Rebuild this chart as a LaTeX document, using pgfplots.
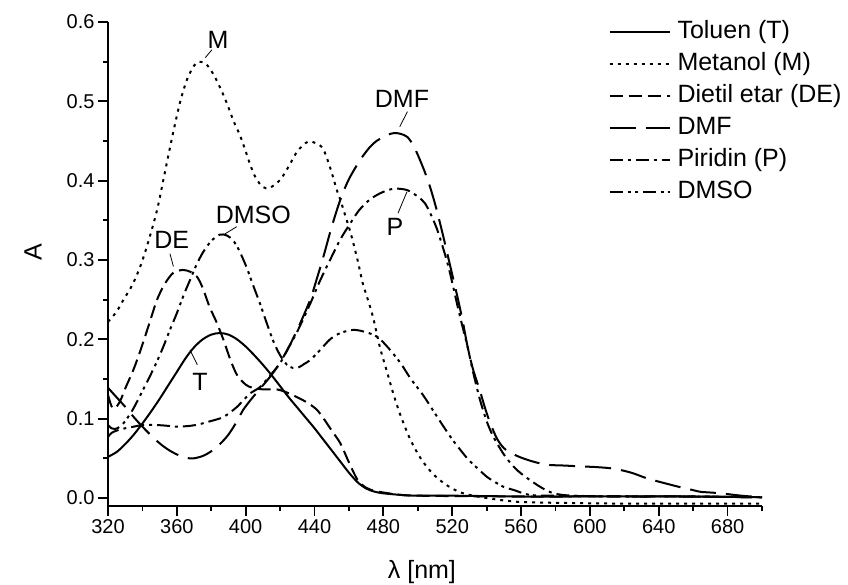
\documentclass[border=0pt]{standalone}
\usepackage{fontspec}
\setmainfont{Liberation Sans}
\usepackage{pgfplots}
\pgfplotsset{compat=1.18}
\tikzset{
  sT/.style={line width=2pt, solid},
  sM/.style={line width=2pt, dash pattern=on 3pt off 5pt},
  sDE/.style={line width=2pt, dash pattern=on 13pt off 6pt},
  sDMF/.style={line width=2pt, dash pattern=on 26pt off 10pt},
  sP/.style={line width=2pt, dash pattern=on 13pt off 5pt on 3pt off 5pt},
  sDMSO/.style={line width=2pt, dash pattern=on 13pt off 5pt on 3pt off 4pt on 3pt off 5pt},
}
\begin{document}
\begin{tikzpicture}
\useasboundingbox (-108pt,-78pt) rectangle (740pt,506pt);
\begin{axis}[
  scale only axis, width=654pt, height=484pt,
  xmin=320, xmax=700, ymin=-0.01, ymax=0.6,
  axis x line*=bottom, axis y line*=left,
  axis line style={line width=1.8pt},
  xtick={320,360,400,440,480,520,560,600,640,680},
  minor xtick={340,380,420,460,500,540,580,620,660,700},
  ytick={0,0.1,0.2,0.3,0.4,0.5,0.6},
  minor ytick={0.05,0.15,0.25,0.35,0.45,0.55},
  tick align=outside,
  major tick length=10pt, minor tick length=5pt,
  every tick/.style={line width=1.8pt, black},
  tick label style={font=\fontsize{20}{24}\selectfont},
  /pgf/number format/assume math mode=true,
  yticklabel style={/pgf/number format/.cd, fixed, fixed zerofill, precision=1},
  xticklabel style={/pgf/number format/1000 sep={}},
  xlabel={λ [nm]}, ylabel={A},
  label style={font=\fontsize{25}{30}\selectfont},
  x label style={at={(axis description cs:0.48,-0.1364)}, anchor=center},
  y label style={at={(axis description cs:-0.1147,0.525)}, anchor=center},
  legend cell align=left,
  legend image code/.code={\draw[#1] (0pt,0pt) -- (60pt,0pt);},
  legend style={draw=none, fill=none, at={(axis description cs:0.765,1.008)}, anchor=north west,
    font=\fontsize{25}{30}\selectfont, row sep=5pt, inner sep=0pt,
    nodes={inner sep=1pt, text depth=6pt, text height=19pt},
    /tikz/every odd column/.append style={column sep=6pt}},
  clip=false,
]
\addplot[sT, smooth] coordinates {
(320,0.052)(325,0.058)(330,0.068)(335,0.080)(340,0.094)(345,0.109)(350,0.125)(355,0.142)(360,0.159)(365,0.176)(370,0.190)(375,0.200)(380,0.206)(385,0.208)(390,0.206)(395,0.200)(400,0.191)(405,0.180)(410,0.168)(415,0.155)(420,0.141)(425,0.127)(430,0.114)(435,0.101)(440,0.088)(445,0.074)(450,0.060)(455,0.046)(460,0.032)(465,0.020)(470,0.012)(475,0.008)(480,0.006)(490,0.004)(500,0.003)(520,0.003)(560,0.002)(600,0.002)(650,0.002)(700,0.001)
};
\addlegendentry{Toluen (T)}
\addplot[sM, smooth] coordinates {
(320,0.222)(325,0.235)(329,0.25)(334,0.268)(338.6,0.291)(343,0.32)(348.5,0.363)(353,0.41)(357.8,0.46)(362,0.5)(366,0.528)(370,0.545)(373,0.55)(377,0.547)(381,0.535)(385,0.518)(389,0.498)(393,0.475)(396.7,0.457)(400,0.437)(403,0.418)(406,0.403)(410,0.392)(414,0.391)(420,0.401)(425,0.418)(430,0.437)(436,0.449)(441,0.447)(445,0.440)(449,0.417)(453,0.388)(455,0.376)(458,0.355)(461,0.334)(465,0.30)(468,0.271)(471,0.25)(474,0.228)(478,0.19)(482,0.16)(486,0.13)(490,0.104)(495,0.077)(500,0.056)(505,0.040)(510,0.028)(515,0.019)(520,0.012)(525,0.007)(530,0.004)(540,0.000)(550,-0.003)(560,-0.005)(580,-0.006)(620,-0.007)(660,-0.007)(700,-0.007)
};
\addlegendentry{Metanol (M)}
\addplot[sDE, smooth] coordinates {
(320,0.13)(322,0.116)(324,0.113)(327,0.122)(330,0.138)(335,0.163)(339,0.187)(344,0.22)(348.5,0.25)(353,0.27)(358,0.284)(363.6,0.2875)(368,0.285)(371.7,0.279)(375,0.265)(379,0.241)(383,0.222)(387,0.2)(391,0.175)(395,0.155)(400,0.143)(404,0.139)(410,0.137)(418,0.137)(424,0.133)(430,0.127)(436,0.12)(441.5,0.111)(446,0.098)(450,0.085)(455,0.069)(460,0.045)(465,0.023)(470,0.013)(475,0.009)(480,0.007)(490,0.004)(500,0.003)(550,0.002)(600,0.002)(650,0.002)(700,0.001)
};
\addlegendentry{Dietil etar (DE)}
\addplot[sDMF, smooth] coordinates {
(320,0.139)(325,0.127)(330,0.115)(335,0.102)(340,0.09)(345,0.079)(350,0.069)(355,0.061)(360,0.055)(365,0.051)(369.5,0.05)(375,0.053)(380,0.059)(385,0.068)(390,0.080)(395,0.097)(398.5,0.111)(403,0.124)(408,0.137)(412,0.147)(416,0.158)(420,0.171)(425,0.19)(431,0.217)(437.5,0.25)(441,0.274)(445,0.303)(450,0.342)(455,0.376)(460,0.402)(466.5,0.426)(472,0.442)(476,0.45)(480,0.455)(484,0.459)(487,0.46)(490,0.459)(494,0.455)(498,0.442)(503,0.417)(507,0.393)(511,0.363)(515,0.328)(519,0.291)(523,0.254)(526,0.224)(529,0.19)(532,0.163)(536,0.136)(539,0.114)(542,0.095)(546,0.075)(550,0.063)(555,0.056)(560,0.051)(567,0.046)(575,0.042)(585,0.041)(594,0.04)(604,0.039)(614,0.037)(624,0.032)(633,0.025)(643,0.019)(652,0.014)(658,0.011)(664,0.008)(670,0.007)(676,0.006)(688,0.003)(700,0.001)
};
\addlegendentry{DMF}
\addplot[sP, smooth] coordinates {
(320,0.077)(322,0.082)(325,0.085)(330,0.088)(335,0.09)(340,0.092)(348.5,0.092)(355,0.091)(360,0.09)(367.7,0.091)(373,0.093)(378,0.096)(383,0.099)(387,0.102)(391,0.108)(395,0.115)(399,0.124)(402.6,0.132)(408.4,0.14)(414,0.154)(420,0.17)(425,0.19)(430,0.21)(437.5,0.245)(443,0.273)(449,0.3)(455,0.326)(461,0.347)(466,0.363)(472,0.376)(478,0.384)(484,0.389)(488,0.39)(494,0.388)(500,0.38)(504,0.372)(507,0.36)(511,0.34)(515,0.313)(518,0.29)(520.6,0.266)(523,0.243)(526,0.216)(529,0.19)(532,0.16)(536,0.125)(540,0.097)(544,0.077)(550,0.055)(555.5,0.04)(560,0.031)(565,0.023)(572,0.013)(579,0.006)(590,0.003)(620,0.002)(660,0.002)(700,0.001)
};
\addlegendentry{Piridin (P)}
\addplot[sDMSO, smooth] coordinates {
(320,0.092)(322,0.088)(324,0.087)(327,0.09)(330,0.097)(334,0.11)(337,0.122)(340,0.135)(344,0.152)(348,0.17)(352,0.19)(356,0.212)(360,0.233)(364,0.256)(367.7,0.275)(371,0.292)(375,0.309)(380,0.324)(385,0.332)(389,0.331)(392.6,0.325)(396,0.313)(400.5,0.291)(404,0.27)(408,0.247)(412,0.222)(416,0.198)(420,0.18)(424,0.168)(427.5,0.164)(431,0.165)(434,0.169)(437.5,0.174)(443,0.186)(449,0.2)(455,0.208)(462.7,0.212)(470,0.209)(476.6,0.203)(483,0.189)(490,0.17)(496,0.15)(503,0.13)(509,0.11)(515,0.09)(520,0.074)(525,0.06)(530,0.047)(536,0.035)(540,0.027)(545,0.02)(550,0.014)(556,0.01)(565,0.004)(580,0.003)(620,0.002)(660,0.002)(700,0.001)
};
\addlegendentry{DMSO}
% annotations
\begin{scope}[every node/.style={font=\fontsize{25}{30}\selectfont, inner sep=0pt}]
\node at (axis cs:384,0.578) {M};
\draw[line width=0.8pt] (axis cs:376.5,0.555) -- (axis cs:380.4,0.565);
\node at (axis cs:490.8,0.503) {DMF};
\draw[line width=0.8pt] (axis cs:494,0.487) -- (axis cs:489.5,0.468);
\node at (axis cs:486.7,0.342) {P};
\draw[line width=0.8pt] (axis cs:488.5,0.359) -- (axis cs:493.7,0.386);
\node at (axis cs:404.4,0.357) {DMSO};
\draw[line width=0.8pt] (axis cs:388,0.333) -- (axis cs:394.8,0.342);
\node at (axis cs:357,0.325) {DE};
\draw[line width=0.8pt] (axis cs:356,0.308) -- (axis cs:358,0.292);
\node at (axis cs:373.5,0.147) {T};
\draw[line width=0.8pt] (axis cs:367.6,0.187) -- (axis cs:371.9,0.168);
\end{scope}
\end{axis}
\end{tikzpicture}
\end{document}
